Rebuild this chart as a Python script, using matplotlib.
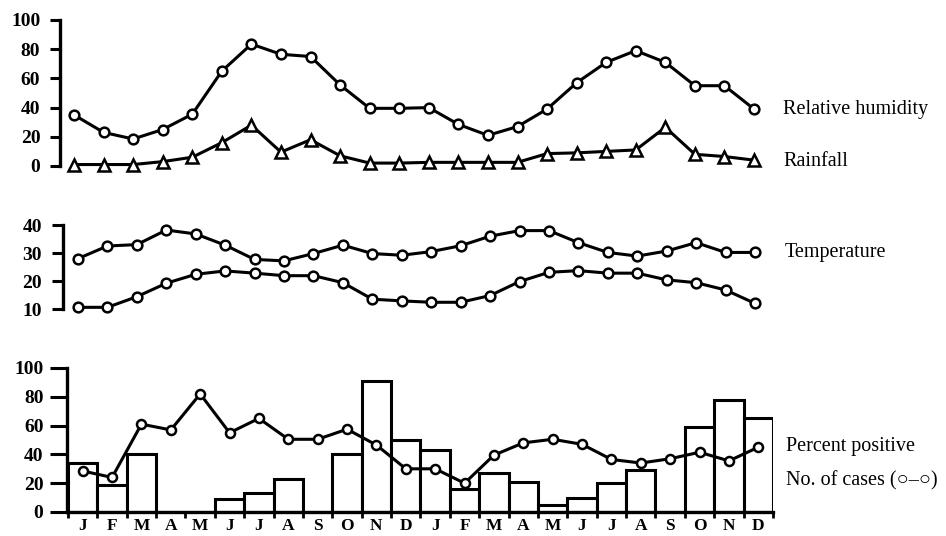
import numpy as np
import matplotlib.pyplot as plt

plt.rcParams['font.family'] = ['Liberation Serif', 'DejaVu Serif']

# values (two years, Jan..Dec twice)
months = ["J", "F", "M", "A", "M", "J", "J", "A", "S", "O", "N", "D"] * 2

humidity = [35, 23, 18.5, 25, 35.5, 65, 83.5, 76.5, 75, 55.5, 39.5, 39.5,
            40, 28.5, 21, 27, 39, 57, 71, 79, 71, 55, 55, 39]
rainfall = [1, 1, 1, 3, 6, 16, 28, 9.5, 18, 7, 2, 2,
            2.5, 2.5, 2.5, 2.5, 8.5, 9, 10, 11, 26.5, 8, 6.5, 4]
temp_max = [28, 32.5, 33, 38.2, 36.8, 32.8, 27.7, 27.2, 29.8, 32.8, 29.8, 29.2,
            30.5, 32.6, 36, 38, 38, 33.7, 30.2, 28.9, 30.7, 33.7, 30.2, 30.2]
temp_min = [10.6, 10.6, 14.4, 19.2, 22.4, 23.6, 22.8, 21.9, 21.9, 19.4, 13.5, 12.9,
            12.4, 12.4, 14.8, 19.8, 23.1, 23.7, 22.8, 22.8, 20.4, 19.4, 16.8, 12]
pct_positive = [34, 19, 40, 0, 0, 9, 13, 23, 0, 40, 91, 50,
                43, 16, 27, 21, 5, 10, 20, 29, 0, 59, 78, 65]
n_cases = [28.5, 24, 61, 57, 82, 55, 65, 50.5, 50.5, 57.5, 46.5, 30,
           30, 20, 39.5, 48, 50.5, 47, 36.5, 34, 37, 41.5, 35.5, 45]

W, H = 946, 536
fig = plt.figure(figsize=(W / 100, H / 100), dpi=100)


def px_axes(x0, x1, ytop, ybot):
    # place an axes using pixel positions of the reference
    return fig.add_axes([x0 / W, 1 - ybot / H, (x1 - x0) / W, (ybot - ytop) / H])


def style(ax, ticklen, pad):
    for s in ["top", "right", "bottom"]:
        ax.spines[s].set_visible(False)
    ax.spines["left"].set_linewidth(2.4)
    ax.tick_params(axis="y", direction="out", length=ticklen, width=2.2, pad=pad,
                   labelsize=14)
    for t in ax.get_yticklabels():
        t.set_fontweight("bold")
    ax.set_xticks([])


x = np.arange(24)
line_kw = dict(color="black", lw=2.2, markerfacecolor="white",
               markeredgecolor="black", clip_on=False)

# top: humidity and rainfall
ax1 = px_axes(60, 770, 20, 166)
ax1.plot(x, humidity, marker="o", ms=7, mew=1.8, **line_kw)
ax1.plot(x, rainfall, marker="^", ms=8.5, mew=1.8, **line_kw)
ax1.set_xlim(-0.474, 23.54)
ax1.set_ylim(0, 100)
ax1.set_yticks([0, 20, 40, 60, 80, 100])
style(ax1, 7.2, 7)

# middle: temperature
ax2 = px_axes(63, 770, 225, 309)
ax2.plot(x, temp_max, marker="o", ms=7, mew=1.8, **line_kw)
ax2.plot(x, temp_min, marker="o", ms=7, mew=1.8, **line_kw)
ax2.set_xlim(-0.51, 23.51)
ax2.set_ylim(10, 40)
ax2.set_yticks([10, 20, 30, 40])
style(ax2, 8, 7)

# bottom: percent positive (bars) and no. of cases (line)
ax3 = px_axes(67, 773, 368, 512)
ax3.bar(x, pct_positive, width=1.0, facecolor="white", edgecolor="black",
        linewidth=2.2, zorder=2)
ax3.plot(x, n_cases, marker="o", ms=6.5, mew=1.8, zorder=3, **line_kw)
ax3.set_xlim(-0.534, 23.5)
ax3.set_ylim(0, 100)
ax3.set_yticks([0, 20, 40, 60, 80, 100])
style(ax3, 12, 5)
ax3.spines["bottom"].set_visible(True)
ax3.spines["bottom"].set_linewidth(2.4)
ax3.set_xticks(np.arange(-0.5, 24, 1))
ax3.set_xticklabels([])
ax3.set_xticks(x, minor=True)
ax3.set_xticklabels(months, minor=True, fontsize=12.5, fontweight="bold")
ax3.tick_params(axis="x", which="major", direction="out", length=4, width=2)
ax3.tick_params(axis="x", which="minor", length=0, pad=4)

# series labels at the right
fs = 14.5
fig.text(783 / W, 1 - 109 / H, "Relative humidity", fontsize=fs, va="center")
fig.text(783 / W, 1 - 162 / H, "Rainfall", fontsize=fs, va="center")
fig.text(785 / W, 1 - 252 / H, "Temperature", fontsize=fs, va="center")
fig.text(786 / W, 1 - 447 / H, "Percent positive", fontsize=fs, va="center")
fig.text(786 / W, 1 - 481 / H, "No. of cases (\u25cb\u2013\u25cb)", fontsize=fs, va="center")

fig.savefig("out.png", dpi=100)
